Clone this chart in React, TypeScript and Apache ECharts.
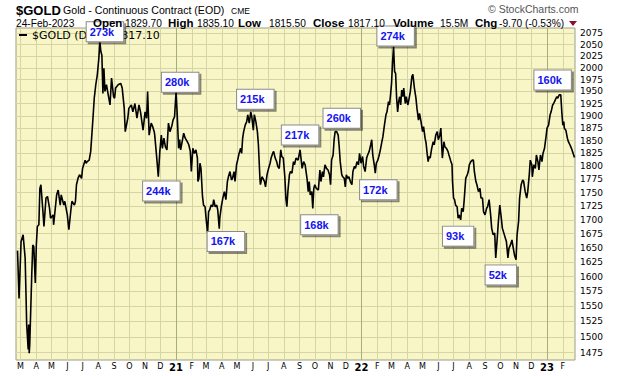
import React, { useEffect, useRef } from 'react';
import * as echarts from 'echarts';

// ---- data ----
const prices2020: [string, number][] = [
  ['2020-02-24', 1645], ['2020-02-27', 1563], ['2020-03-02', 1661], ['2020-03-06', 1673], ['2020-03-10', 1632],
  ['2020-03-12', 1558], ['2020-03-13', 1520], ['2020-03-16', 1480], ['2020-03-17', 1520], ['2020-03-18', 1474],
  ['2020-03-19', 1487], ['2020-03-23', 1603], ['2020-03-25', 1655], ['2020-03-27', 1652], ['2020-03-30', 1589],
  ['2020-04-01', 1655], ['2020-04-03', 1688], ['2020-04-06', 1691], ['2020-04-08', 1758], ['2020-04-10', 1765],
  ['2020-04-14', 1715], ['2020-04-16', 1688], ['2020-04-20', 1740], ['2020-04-23', 1743], ['2020-04-27', 1721],
  ['2020-04-29', 1703], ['2020-05-04', 1709], ['2020-05-05', 1691], ['2020-05-07', 1709], ['2020-05-11', 1746],
  ['2020-05-14', 1755], ['2020-05-18', 1727], ['2020-05-20', 1746], ['2020-05-25', 1727], ['2020-05-27', 1734],
  ['2020-06-01', 1709], ['2020-06-04', 1682], ['2020-06-08', 1718], ['2020-06-10', 1734], ['2020-06-15', 1727],
  ['2020-06-17', 1734], ['2020-06-19', 1765], ['2020-06-22', 1777], ['2020-06-25', 1784], ['2020-06-29', 1777],
  ['2020-07-01', 1796], ['2020-07-06', 1812], ['2020-07-08', 1806], ['2020-07-10', 1809], ['2020-07-14', 1812],
  ['2020-07-17', 1829], ['2020-07-21', 1888], ['2020-07-24', 1936], ['2020-07-27', 1964], ['2020-07-30', 1985],
  ['2020-08-02', 2020], ['2020-08-04', 2057], ['2020-08-06', 2035], ['2020-08-08', 2027], ['2020-08-10', 1946],
  ['2020-08-12', 1999], ['2020-08-14', 1950], ['2020-08-17', 1964], ['2020-08-20', 1946], ['2020-08-24', 1922],
  ['2020-08-27', 1978], ['2020-08-31', 1939], ['2020-09-02', 1936], ['2020-09-04', 1957], ['2020-09-09', 1964],
  ['2020-09-14', 1967], ['2020-09-17', 1957], ['2020-09-21', 1915], ['2020-09-23', 1868], ['2020-09-28', 1895],
  ['2020-09-30', 1915], ['2020-10-05', 1922], ['2020-10-08', 1908], ['2020-10-12', 1925], ['2020-10-16', 1895],
  ['2020-10-20', 1922], ['2020-10-23', 1908], ['2020-10-28', 1871], ['2020-11-01', 1908], ['2020-11-04', 1895],
  ['2020-11-06', 1950], ['2020-11-09', 1861], ['2020-11-13', 1885], ['2020-11-16', 1878], ['2020-11-19', 1868],
  ['2020-11-20', 1861], ['2020-11-24', 1816], ['2020-11-27', 1780], ['2020-11-30', 1829], ['2020-12-03', 1861],
  ['2020-12-05', 1835], ['2020-12-08', 1855], ['2020-12-11', 1838], ['2020-12-14', 1832], ['2020-12-17', 1885],
  ['2020-12-20', 1868], ['2020-12-24', 1881], ['2020-12-26', 1891], ['2020-12-29', 1898],
];

const prices2021: [string, number][] = [
  ['2021-01-01', 1950], ['2021-01-03', 1908], ['2021-01-06', 1835], ['2021-01-08', 1852], ['2021-01-10', 1832],
  ['2021-01-16', 1865], ['2021-01-19', 1855], ['2021-01-23', 1848], ['2021-01-26', 1842], ['2021-01-29', 1829],
  ['2021-01-31', 1790], ['2021-02-03', 1835], ['2021-02-06', 1825], ['2021-02-09', 1832], ['2021-02-12', 1816],
  ['2021-02-13', 1771], ['2021-02-15', 1777], ['2021-02-17', 1806], ['2021-02-19', 1796], ['2021-02-22', 1743],
  ['2021-02-24', 1727], ['2021-02-27', 1724], ['2021-03-01', 1703], ['2021-03-04', 1676], ['2021-03-06', 1715],
  ['2021-03-08', 1718], ['2021-03-11', 1727], ['2021-03-14', 1724], ['2021-03-16', 1737], ['2021-03-19', 1724],
  ['2021-03-22', 1727], ['2021-03-24', 1718], ['2021-03-27', 1684], ['2021-03-28', 1703], ['2021-03-31', 1724],
  ['2021-04-03', 1740], ['2021-04-06', 1752], ['2021-04-09', 1737], ['2021-04-12', 1771], ['2021-04-14', 1780],
  ['2021-04-17', 1790], ['2021-04-20', 1774], ['2021-04-22', 1777], ['2021-04-25', 1790], ['2021-04-27', 1771],
  ['2021-04-30', 1803], ['2021-05-03', 1816], ['2021-05-05', 1825], ['2021-05-08', 1835], ['2021-05-10', 1825],
  ['2021-05-12', 1855], ['2021-05-14', 1868], ['2021-05-17', 1881], ['2021-05-20', 1888], ['2021-05-22', 1902],
  ['2021-05-25', 1885], ['2021-05-28', 1908], ['2021-05-30', 1898], ['2021-06-02', 1871], ['2021-06-04', 1902],
  ['2021-06-07', 1888], ['2021-06-10', 1868], ['2021-06-12', 1842], ['2021-06-15', 1777], ['2021-06-16', 1765],
  ['2021-06-19', 1780], ['2021-06-21', 1777], ['2021-06-24', 1771], ['2021-06-26', 1761], ['2021-06-29', 1784],
  ['2021-07-02', 1796], ['2021-07-05', 1806], ['2021-07-07', 1816], ['2021-07-10', 1825], ['2021-07-12', 1829],
  ['2021-07-15', 1816], ['2021-07-18', 1809], ['2021-07-20', 1800], ['2021-07-23', 1796], ['2021-07-26', 1832],
  ['2021-07-28', 1819], ['2021-07-31', 1816], ['2021-08-03', 1780], ['2021-08-05', 1740], ['2021-08-07', 1724],
  ['2021-08-09', 1752], ['2021-08-12', 1784], ['2021-08-14', 1790], ['2021-08-17', 1787], ['2021-08-20', 1809],
  ['2021-08-22', 1803], ['2021-08-25', 1816], ['2021-08-29', 1812], ['2021-09-02', 1832], ['2021-09-06', 1796],
  ['2021-09-09', 1809], ['2021-09-12', 1803], ['2021-09-16', 1774], ['2021-09-18', 1752], ['2021-09-20', 1771],
  ['2021-09-22', 1746], ['2021-09-25', 1752], ['2021-09-27', 1721], ['2021-09-29', 1758], ['2021-10-01', 1765],
  ['2021-10-04', 1758], ['2021-10-08', 1755], ['2021-10-11', 1793], ['2021-10-13', 1771], ['2021-10-16', 1790],
  ['2021-10-18', 1780], ['2021-10-21', 1803], ['2021-10-24', 1796], ['2021-10-27', 1793], ['2021-10-30', 1784],
  ['2021-11-01', 1765], ['2021-11-03', 1812], ['2021-11-06', 1822], ['2021-11-08', 1852], ['2021-11-10', 1868],
  ['2021-11-13', 1868], ['2021-11-16', 1861], ['2021-11-18', 1838], ['2021-11-20', 1809], ['2021-11-23', 1784],
  ['2021-11-25', 1780], ['2021-11-28', 1777], ['2021-11-30', 1761], ['2021-12-02', 1784], ['2021-12-05', 1777],
  ['2021-12-07', 1780], ['2021-12-10', 1771], ['2021-12-13', 1765], ['2021-12-15', 1790], ['2021-12-18', 1800],
  ['2021-12-20', 1796], ['2021-12-23', 1809], ['2021-12-26', 1803], ['2021-12-28', 1825], ['2021-12-31', 1806],
];

const prices2022: [string, number][] = [
  ['2022-01-03', 1819], ['2022-01-05', 1800], ['2022-01-08', 1790], ['2022-01-11', 1816], ['2022-01-13', 1822],
  ['2022-01-16', 1829], ['2022-01-19', 1842], ['2022-01-21', 1852], ['2022-01-23', 1822], ['2022-01-26', 1803],
  ['2022-01-28', 1787], ['2022-01-30', 1806], ['2022-02-02', 1812], ['2022-02-04', 1819], ['2022-02-07', 1832],
  ['2022-02-10', 1848], ['2022-02-12', 1858], ['2022-02-15', 1881], ['2022-02-18', 1902], ['2022-02-20', 1908],
  ['2022-02-23', 1929], ['2022-02-25', 1922], ['2022-02-27', 1943], ['2022-03-01', 1967], ['2022-03-03', 2013],
  ['2022-03-05', 2046], ['2022-03-07', 1992], ['2022-03-09', 1988], ['2022-03-11', 1936], ['2022-03-13', 1908],
  ['2022-03-15', 1929], ['2022-03-17', 1939], ['2022-03-19', 1922], ['2022-03-21', 1953], ['2022-03-23', 1939],
  ['2022-03-25', 1957], ['2022-03-28', 1925], ['2022-03-30', 1939], ['2022-04-02', 1922], ['2022-04-04', 1932],
  ['2022-04-07', 1950], ['2022-04-10', 1981], ['2022-04-12', 1986], ['2022-04-15', 1957], ['2022-04-18', 1936],
  ['2022-04-20', 1915], ['2022-04-23', 1891], ['2022-04-25', 1905], ['2022-04-28', 1888], ['2022-05-01', 1868],
  ['2022-05-03', 1878], ['2022-05-06', 1855], ['2022-05-08', 1845], ['2022-05-10', 1825], ['2022-05-12', 1809],
  ['2022-05-14', 1819], ['2022-05-16', 1816], ['2022-05-19', 1835], ['2022-05-22', 1848], ['2022-05-24', 1842],
  ['2022-05-27', 1861], ['2022-05-30', 1868], ['2022-06-01', 1852], ['2022-06-04', 1861], ['2022-06-06', 1875],
  ['2022-06-09', 1816], ['2022-06-12', 1848], ['2022-06-14', 1838], ['2022-06-17', 1835], ['2022-06-20', 1829],
  ['2022-06-22', 1822], ['2022-06-25', 1812], ['2022-06-28', 1803], ['2022-06-29', 1771], ['2022-07-01', 1740],
  ['2022-07-03', 1737], ['2022-07-05', 1727], ['2022-07-08', 1724], ['2022-07-10', 1703], ['2022-07-12', 1709],
  ['2022-07-15', 1700], ['2022-07-17', 1721], ['2022-07-20', 1715], ['2022-07-22', 1737], ['2022-07-25', 1777],
  ['2022-07-28', 1784], ['2022-07-30', 1790], ['2022-08-01', 1803], ['2022-08-04', 1809], ['2022-08-07', 1812],
  ['2022-08-09', 1812], ['2022-08-11', 1790], ['2022-08-14', 1771], ['2022-08-16', 1765], ['2022-08-19', 1752],
  ['2022-08-22', 1758], ['2022-08-24', 1740], ['2022-08-27', 1740], ['2022-08-29', 1715], ['2022-09-01', 1709],
  ['2022-09-04', 1721], ['2022-09-06', 1724], ['2022-09-09', 1737], ['2022-09-12', 1709], ['2022-09-14', 1685],
  ['2022-09-17', 1673], ['2022-09-20', 1676], ['2022-09-22', 1632], ['2022-09-25', 1667], ['2022-09-27', 1694],
  ['2022-09-30', 1727], ['2022-10-03', 1703], ['2022-10-05', 1685], ['2022-10-08', 1676], ['2022-10-11', 1667],
  ['2022-10-13', 1661], ['2022-10-16', 1632], ['2022-10-18', 1649], ['2022-10-21', 1655], ['2022-10-24', 1664],
  ['2022-10-26', 1652], ['2022-10-29', 1637], ['2022-11-01', 1629], ['2022-11-03', 1673], ['2022-11-06', 1697],
  ['2022-11-08', 1740], ['2022-11-11', 1765], ['2022-11-14', 1774], ['2022-11-16', 1771], ['2022-11-19', 1752],
  ['2022-11-22', 1740], ['2022-11-24', 1752], ['2022-11-27', 1784], ['2022-11-29', 1812], ['2022-12-02', 1803],
  ['2022-12-03', 1780], ['2022-12-06', 1803], ['2022-12-09', 1796], ['2022-12-11', 1822], ['2022-12-14', 1809],
  ['2022-12-16', 1793], ['2022-12-19', 1822], ['2022-12-22', 1809], ['2022-12-24', 1825], ['2022-12-27', 1835],
  ['2022-12-30', 1858],
];

const prices2023: [string, number][] = [
  ['2023-01-01', 1875], ['2023-01-04', 1881], ['2023-01-07', 1902], ['2023-01-09', 1908], ['2023-01-12', 1922],
  ['2023-01-14', 1925], ['2023-01-17', 1932], ['2023-01-20', 1939], ['2023-01-22', 1936], ['2023-01-25', 1943],
  ['2023-01-28', 1943], ['2023-01-30', 1908], ['2023-02-01', 1881], ['2023-02-03', 1888], ['2023-02-04', 1875],
  ['2023-02-07', 1871], ['2023-02-10', 1855], ['2023-02-12', 1848], ['2023-02-15', 1842], ['2023-02-18', 1835],
  ['2023-02-24', 1817.1],
];

// annotation boxes: date / price of the box centre, and the text
const annotationDates = ['2020-08-14', '2021-01-09', '2020-12-03', '2021-04-09', '2021-06-06', '2021-09-02', '2021-10-10', '2021-11-23', '2022-02-03', '2022-03-09', '2022-07-10', '2022-10-02', '2023-01-12'];
const annotationPrices = [2078.5, 1969.4, 1753.4, 1661.1, 1933.9, 1861.3, 1690.9, 1895.0, 1755.3, 2069.2, 1670.6, 1602.8, 1974.0];
const annotationTexts = ['273k', '280k', '244k', '167k', '215k', '217k', '168k', '260k', '172k', '274k', '93k', '52k', '160k'];

const yTicks = [1475, 1500, 1525, 1550, 1575, 1600, 1625, 1650, 1675, 1700, 1725, 1750, 1775, 1800, 1825, 1850, 1875, 1900, 1925, 1950, 1975, 2000, 2025, 2050, 2075];

const monthTicks = [
  '2020-03-01', '2020-04-01', '2020-05-01', '2020-06-01', '2020-07-01', '2020-08-01', '2020-09-01', '2020-10-01', '2020-11-01', '2020-12-01',
  '2021-01-01', '2021-02-01', '2021-03-01', '2021-04-01', '2021-05-01', '2021-06-01', '2021-07-01', '2021-08-01', '2021-09-01', '2021-10-01', '2021-11-01', '2021-12-01',
  '2022-01-01', '2022-02-01', '2022-03-01', '2022-04-01', '2022-05-01', '2022-06-01', '2022-07-01', '2022-08-01', '2022-09-01', '2022-10-01', '2022-11-01', '2022-12-01',
  '2023-01-01', '2023-02-01',
];
const monthLabels = [
  'M', 'A', 'M', 'J', 'J', 'A', 'S', 'O', 'N', 'D',
  '21', 'F', 'M', 'A', 'M', 'J', 'J', 'A', 'S', 'O', 'N', 'D',
  '22', 'F', 'M', 'A', 'M', 'J', 'J', 'A', 'S', 'O', 'N', 'D',
  '23', 'F',
];

const X_MIN = '2020-02-21';
const X_MAX = '2023-02-25';
const Y_MIN = 1463.5;
const Y_MAX = 2086.8;

const ts = (s: string) => {
  const [y, m, d] = s.split('-').map(Number);
  return new Date(y, m - 1, d).getTime();
};

const GRID_COLOR = '#d6d6a4';
const YEAR_COLOR = '#a7ae7e';
const AXIS_FONT = '"DejaVu Sans", Verdana, sans-serif';
const HEAD_FONT = '"Liberation Sans", Arial, sans-serif';

export default function App() {
  const ref = useRef<HTMLDivElement>(null);

  useEffect(() => {
    document.body.style.margin = '0';
    if (!ref.current) return;
    const chart = echarts.init(ref.current, undefined, { renderer: 'svg' });

    const seriesData = [...prices2020, ...prices2021, ...prices2022, ...prices2023].map(([d, v]) => [ts(d), v]);

    const hLines = yTicks.map((v) => ({
      yAxis: v,
      lineStyle: { color: GRID_COLOR, width: 1, type: 'solid' },
      label: {
        show: true, position: 'end', distance: 5, formatter: String(v),
        color: '#000', fontSize: 9, fontFamily: AXIS_FONT,
      },
    }));
    const vLines = monthTicks.map((d, i) => {
      const isYear = /^\d+$/.test(monthLabels[i]);
      return {
        xAxis: ts(d),
        lineStyle: { color: isYear ? YEAR_COLOR : GRID_COLOR, width: 1, type: 'solid' },
        label: {
          show: true, position: 'start', distance: 2, formatter: monthLabels[i],
          color: '#000', fontSize: isYear ? 10 : 8, fontWeight: isYear ? 'bold' : 'normal', fontFamily: AXIS_FONT,
        },
      };
    });

    const B = `bold 11.5px ${HEAD_FONT}`;
    const V = `10.2px ${HEAD_FONT}`;
    const headerTexts: any[] = [
      { t: '$GOLD', x: 16, y: 10, font: `bold 13px ${HEAD_FONT}` },
      { t: 'Gold - Continuous Contract (EOD)', x: 63, y: 10, font: `10.6px ${HEAD_FONT}` },
      { t: 'CME', x: 231, y: 10.5, font: `8.5px ${HEAD_FONT}` },
      { t: '24-Feb-2023', x: 16, y: 23, font: V },
      { t: 'Open', x: 93, y: 23, font: B },
      { t: '1829.70', x: 125, y: 23, font: V },
      { t: 'High', x: 168, y: 23, font: B },
      { t: '1835.10', x: 197, y: 23, font: V },
      { t: 'Low', x: 238, y: 23, font: B },
      { t: '1815.50', x: 269, y: 23, font: V },
      { t: 'Close', x: 313, y: 23, font: B },
      { t: '1817.10', x: 348, y: 23, font: V },
      { t: 'Volume', x: 393, y: 23, font: B },
      { t: '15.5M', x: 440, y: 23, font: V },
      { t: 'Chg', x: 475, y: 23, font: B },
      { t: '-9.70 (-0.53%)', x: 499, y: 23, font: V },
      { t: '© StockCharts.com', x: 488, y: 9, font: `10.5px ${HEAD_FONT}`, fill: '#555' },
    ];

    const option: any = {
      animation: false,
      backgroundColor: '#ffffff',
      grid: {
        left: 16, right: 45, top: 28, bottom: 16,
        show: true, backgroundColor: '#f8f6c6', borderColor: '#9c9c86', borderWidth: 1,
        outerBoundsMode: 'none', containLabel: false,
      },
      xAxis: {
        type: 'time', min: ts(X_MIN), max: ts(X_MAX),
        axisLine: { show: false }, axisTick: { show: false }, axisLabel: { show: false }, splitLine: { show: false },
      },
      yAxis: {
        type: 'log', logBase: 10, min: Y_MIN, max: Y_MAX,
        axisLine: { show: false }, axisTick: { show: false }, axisLabel: { show: false }, splitLine: { show: false },
      },
      series: [
        {
          type: 'line',
          data: seriesData,
          showSymbol: false,
          symbol: 'none',
          z: 2,
          lineStyle: { color: '#000000', width: 1.6 },
          markLine: {
            silent: true, symbol: 'none', z: 1, animation: false,
            label: { show: true },
            emphasis: { disabled: true },
            data: [...hLines, ...vLines],
          },
          markPoint: {
            silent: true, z: 6, animation: false,
            symbol: 'rect', symbolSize: 1,
            itemStyle: { color: 'rgba(0,0,0,0)' },
            label: {
              show: true, position: 'inside',
              formatter: (p: any) => p.name,
              color: '#1414ee', fontWeight: 'bold', fontSize: 11, fontFamily: HEAD_FONT,
              lineHeight: 12,
              backgroundColor: '#ffffff', borderColor: '#8a8a8a', borderWidth: 1,
              padding: [4, 9, 3, 3],
              shadowColor: 'rgba(0,0,0,0.45)', shadowOffsetX: 2, shadowOffsetY: 2, shadowBlur: 1,
            },
            data: annotationTexts.map((t, i) => ({ name: t, coord: [ts(annotationDates[i]), annotationPrices[i]] })),
          },
        },
      ],
      graphic: [
        ...headerTexts.map((h) => ({
          type: 'text', x: h.x, y: h.y, z: 10, silent: true,
          style: { text: h.t, font: h.font, fill: h.fill || '#000', verticalAlign: 'middle', align: 'left' },
        })),
        {
          type: 'polygon', z: 10, silent: true,
          shape: { points: [[569, 21], [577, 21], [573, 26]] },
          style: { fill: '#8b0f2e' },
        },
        {
          type: 'line', z: 3, silent: true,
          shape: { x1: 19, y1: 35, x2: 27, y2: 35 },
          style: { stroke: '#000', lineWidth: 2 },
        },
        {
          type: 'text', x: 32, y: 35, z: 3, silent: true,
          style: { text: '$GOLD (Daily) 1817.10', font: `11px ${AXIS_FONT}`, fill: '#000', verticalAlign: 'middle', align: 'left' },
        },
      ],
    };

    chart.setOption(option);
    return () => chart.dispose();
  }, []);

  return <div ref={ref} style={{ width: 620, height: 376 }} />;
}
